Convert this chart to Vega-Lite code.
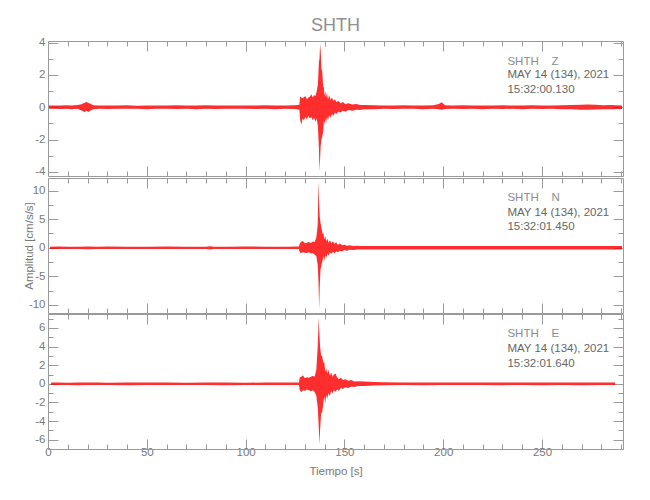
{
  "$schema": "https://vega.github.io/schema/vega-lite/v6.json",
  "padding": {"left": 23, "top": 16, "right": 5, "bottom": 5},
  "spacing": -3,
  "config": {
    "font": "Liberation Sans",
    "view": {"stroke": null},
    "axis": {"domainColor": "#9a9a9a", "tickColor": "#9a9a9a", "labelColor": "#787878", "titleColor": "#787878", "labelFontSize": 11.5, "titleFontSize": 11.5, "titleFontWeight": "normal", "grid": false, "labelFont": "Liberation Sans", "titleFont": "Liberation Sans", "domainWidth": 1, "tickWidth": 1, "labelFlush": false, "labelOverlap": false}
  },
  "datasets": {
    "ann": [
      {"c": "Z", "line": 1, "t": 232.5, "v": 2.81, "label": "SHTH\u00a0\u00a0\u00a0\u00a0Z"},
      {"c": "Z", "line": 2, "t": 232.5, "v": 1.97, "label": "MAY 14 (134), 2021"},
      {"c": "Z", "line": 3, "t": 232.5, "v": 1.06, "label": "15:32:00.130"},
      {"c": "N", "line": 1, "t": 232.5, "v": 8.72, "label": "SHTH\u00a0\u00a0\u00a0\u00a0N"},
      {"c": "N", "line": 2, "t": 232.5, "v": 6.05, "label": "MAY 14 (134), 2021"},
      {"c": "N", "line": 3, "t": 232.5, "v": 3.56, "label": "15:32:01.450"},
      {"c": "E", "line": 1, "t": 232.5, "v": 5.3, "label": "SHTH\u00a0\u00a0\u00a0\u00a0E"},
      {"c": "E", "line": 2, "t": 232.5, "v": 3.76, "label": "MAY 14 (134), 2021"},
      {"c": "E", "line": 3, "t": 232.5, "v": 2.16, "label": "15:32:01.640"}
    ],
    "Z": [
      {"t": 0.5, "lo": -0.1, "hi": 0.1}, {"t": 3, "lo": -0.09, "hi": 0.11}, {"t": 6, "lo": -0.11, "hi": 0.1}, {"t": 9, "lo": -0.1, "hi": 0.12},
      {"t": 12, "lo": -0.12, "hi": 0.1}, {"t": 15, "lo": -0.1, "hi": 0.13}, {"t": 17, "lo": -0.2, "hi": 0.18}, {"t": 18.5, "lo": -0.3, "hi": 0.28},
      {"t": 19.5, "lo": -0.22, "hi": 0.32}, {"t": 20.5, "lo": -0.3, "hi": 0.26}, {"t": 21.5, "lo": -0.2, "hi": 0.22}, {"t": 23, "lo": -0.12, "hi": 0.12},
      {"t": 26, "lo": -0.1, "hi": 0.11}, {"t": 30, "lo": -0.11, "hi": 0.1}, {"t": 35, "lo": -0.09, "hi": 0.1}, {"t": 40, "lo": -0.1, "hi": 0.12},
      {"t": 45, "lo": -0.1, "hi": 0.09}, {"t": 50, "lo": -0.12, "hi": 0.11}, {"t": 55, "lo": -0.09, "hi": 0.1}, {"t": 60, "lo": -0.1, "hi": 0.1},
      {"t": 65, "lo": -0.11, "hi": 0.12}, {"t": 70, "lo": -0.1, "hi": 0.1}, {"t": 75, "lo": -0.12, "hi": 0.11}, {"t": 80, "lo": -0.1, "hi": 0.12},
      {"t": 85, "lo": -0.11, "hi": 0.1}, {"t": 90, "lo": -0.09, "hi": 0.1}, {"t": 95, "lo": -0.1, "hi": 0.11}, {"t": 100, "lo": -0.1, "hi": 0.1},
      {"t": 105, "lo": -0.11, "hi": 0.1}, {"t": 110, "lo": -0.1, "hi": 0.12}, {"t": 115, "lo": -0.12, "hi": 0.11}, {"t": 120, "lo": -0.1, "hi": 0.1},
      {"t": 125, "lo": -0.11, "hi": 0.12}, {"t": 127.2, "lo": -0.15, "hi": 0.15}, {"t": 127.6, "lo": -0.77, "hi": 0.68}, {"t": 128.2, "lo": -1.08, "hi": 0.6},
      {"t": 128.8, "lo": -0.7, "hi": 0.55}, {"t": 129.5, "lo": -0.8, "hi": 0.62}, {"t": 130.3, "lo": -0.6, "hi": 0.7}, {"t": 131, "lo": -0.75, "hi": 0.5},
      {"t": 131.8, "lo": -0.55, "hi": 0.6}, {"t": 132.5, "lo": -0.7, "hi": 0.65}, {"t": 133.3, "lo": -0.6, "hi": 0.8}, {"t": 134, "lo": -0.8, "hi": 0.6},
      {"t": 134.7, "lo": -0.65, "hi": 0.75}, {"t": 135.4, "lo": -0.9, "hi": 0.7}, {"t": 136, "lo": -0.7, "hi": 1.0}, {"t": 136.6, "lo": -1.2, "hi": 1.4},
      {"t": 137.1, "lo": -2.5, "hi": 2.8}, {"t": 137.4, "lo": -3.97, "hi": 3.0}, {"t": 137.7, "lo": -3.2, "hi": 3.9}, {"t": 138.0, "lo": -2.4, "hi": 3.5},
      {"t": 138.4, "lo": -2.0, "hi": 2.4}, {"t": 138.8, "lo": -1.8, "hi": 2.2}, {"t": 139.3, "lo": -1.5, "hi": 1.2}, {"t": 139.6, "lo": -0.8, "hi": 1.3},
      {"t": 139.9, "lo": -1.1, "hi": 0.7}, {"t": 140.3, "lo": -0.7, "hi": 1.0}, {"t": 140.7, "lo": -1.0, "hi": 0.6}, {"t": 141.2, "lo": -0.6, "hi": 0.9},
      {"t": 141.7, "lo": -0.8, "hi": 0.5}, {"t": 142.3, "lo": -0.5, "hi": 0.75}, {"t": 143, "lo": -0.65, "hi": 0.45}, {"t": 143.7, "lo": -0.4, "hi": 0.6},
      {"t": 144.4, "lo": -0.55, "hi": 0.4}, {"t": 145.2, "lo": -0.35, "hi": 0.5}, {"t": 146, "lo": -0.42, "hi": 0.3}, {"t": 147, "lo": -0.28, "hi": 0.4},
      {"t": 148, "lo": -0.33, "hi": 0.25}, {"t": 149.2, "lo": -0.22, "hi": 0.32}, {"t": 150.5, "lo": -0.28, "hi": 0.2}, {"t": 152, "lo": -0.18, "hi": 0.25},
      {"t": 154, "lo": -0.22, "hi": 0.17}, {"t": 156, "lo": -0.15, "hi": 0.2}, {"t": 158, "lo": -0.17, "hi": 0.14}, {"t": 160, "lo": -0.13, "hi": 0.14},
      {"t": 165, "lo": -0.12, "hi": 0.12}, {"t": 170, "lo": -0.1, "hi": 0.11}, {"t": 175, "lo": -0.11, "hi": 0.1},
      {"t": 180, "lo": -0.1, "hi": 0.12}, {"t": 185, "lo": -0.1, "hi": 0.1}, {"t": 190, "lo": -0.12, "hi": 0.11}, {"t": 195, "lo": -0.1, "hi": 0.12},
      {"t": 197.8, "lo": -0.12, "hi": 0.2}, {"t": 199.2, "lo": -0.15, "hi": 0.3}, {"t": 201, "lo": -0.11, "hi": 0.12}, {"t": 205, "lo": -0.1, "hi": 0.1},
      {"t": 210, "lo": -0.11, "hi": 0.12}, {"t": 215, "lo": -0.1, "hi": 0.1}, {"t": 220, "lo": -0.12, "hi": 0.11}, {"t": 225, "lo": -0.1, "hi": 0.1},
      {"t": 230, "lo": -0.11, "hi": 0.12}, {"t": 235, "lo": -0.1, "hi": 0.1}, {"t": 240, "lo": -0.12, "hi": 0.11}, {"t": 245, "lo": -0.1, "hi": 0.12},
      {"t": 250, "lo": -0.11, "hi": 0.1}, {"t": 255, "lo": -0.1, "hi": 0.11}, {"t": 260, "lo": -0.12, "hi": 0.12}, {"t": 265, "lo": -0.13, "hi": 0.14},
      {"t": 270, "lo": -0.15, "hi": 0.15}, {"t": 273, "lo": -0.16, "hi": 0.17}, {"t": 277, "lo": -0.14, "hi": 0.15}, {"t": 281, "lo": -0.13, "hi": 0.12},
      {"t": 285, "lo": -0.12, "hi": 0.13}, {"t": 290.5, "lo": -0.11, "hi": 0.11}
    ],
    "N": [
      {"t": 1, "lo": -0.2, "hi": 0.2}, {"t": 5, "lo": -0.2, "hi": 0.22}, {"t": 10, "lo": -0.22, "hi": 0.2}, {"t": 15, "lo": -0.2, "hi": 0.2},
      {"t": 20, "lo": -0.25, "hi": 0.22}, {"t": 25, "lo": -0.2, "hi": 0.2}, {"t": 30, "lo": -0.2, "hi": 0.22}, {"t": 40, "lo": -0.22, "hi": 0.2},
      {"t": 50, "lo": -0.2, "hi": 0.2}, {"t": 60, "lo": -0.2, "hi": 0.22}, {"t": 70, "lo": -0.22, "hi": 0.2}, {"t": 80, "lo": -0.2, "hi": 0.2},
      {"t": 82, "lo": -0.28, "hi": 0.26}, {"t": 84, "lo": -0.2, "hi": 0.2}, {"t": 90, "lo": -0.2, "hi": 0.2}, {"t": 100, "lo": -0.2, "hi": 0.22},
      {"t": 110, "lo": -0.22, "hi": 0.2}, {"t": 120, "lo": -0.2, "hi": 0.2}, {"t": 127, "lo": -0.22, "hi": 0.22}, {"t": 127.4, "lo": -0.76, "hi": 0.7},
      {"t": 128, "lo": -0.9, "hi": 1.0}, {"t": 129, "lo": -0.8, "hi": 1.17}, {"t": 130, "lo": -0.85, "hi": 0.8}, {"t": 131, "lo": -0.9, "hi": 0.9},
      {"t": 132, "lo": -0.8, "hi": 1.0}, {"t": 133, "lo": -1.0, "hi": 0.85}, {"t": 134, "lo": -0.9, "hi": 1.1}, {"t": 135, "lo": -1.2, "hi": 1.0},
      {"t": 135.8, "lo": -1.5, "hi": 1.8}, {"t": 136.5, "lo": -3.0, "hi": 4.0}, {"t": 136.9, "lo": -6.0, "hi": 11.7}, {"t": 137.2, "lo": -10.7, "hi": 8.0},
      {"t": 137.5, "lo": -7.0, "hi": 5.5}, {"t": 137.9, "lo": -3.8, "hi": 4.4}, {"t": 138.4, "lo": -3.0, "hi": 3.5}, {"t": 139, "lo": -2.2, "hi": 2.4},
      {"t": 139.4, "lo": -1.4, "hi": 2.6}, {"t": 139.8, "lo": -2.3, "hi": 1.5}, {"t": 140.3, "lo": -1.3, "hi": 2.0}, {"t": 140.8, "lo": -1.8, "hi": 1.2},
      {"t": 141.4, "lo": -1.0, "hi": 1.6}, {"t": 142, "lo": -1.4, "hi": 0.9}, {"t": 142.7, "lo": -0.8, "hi": 1.3}, {"t": 143.4, "lo": -1.1, "hi": 0.8},
      {"t": 144.2, "lo": -0.7, "hi": 1.15}, {"t": 145, "lo": -1.0, "hi": 0.7}, {"t": 145.8, "lo": -0.6, "hi": 0.95}, {"t": 146.7, "lo": -0.8, "hi": 0.55},
      {"t": 147.7, "lo": -0.5, "hi": 0.75}, {"t": 148.8, "lo": -0.65, "hi": 0.45}, {"t": 150, "lo": -0.4, "hi": 0.55}, {"t": 151.3, "lo": -0.5, "hi": 0.35},
      {"t": 152.7, "lo": -0.33, "hi": 0.45}, {"t": 154.5, "lo": -0.4, "hi": 0.3}, {"t": 156.5, "lo": -0.28, "hi": 0.35}, {"t": 158, "lo": -0.3, "hi": 0.3},
      {"t": 165, "lo": -0.28, "hi": 0.3},
      {"t": 175, "lo": -0.3, "hi": 0.3}, {"t": 185, "lo": -0.3, "hi": 0.32}, {"t": 195, "lo": -0.32, "hi": 0.3}, {"t": 205, "lo": -0.3, "hi": 0.3},
      {"t": 215, "lo": -0.28, "hi": 0.3}, {"t": 225, "lo": -0.3, "hi": 0.3}, {"t": 235, "lo": -0.3, "hi": 0.32}, {"t": 245, "lo": -0.32, "hi": 0.3},
      {"t": 255, "lo": -0.3, "hi": 0.3}, {"t": 265, "lo": -0.3, "hi": 0.3}, {"t": 275, "lo": -0.28, "hi": 0.3}, {"t": 285, "lo": -0.3, "hi": 0.3},
      {"t": 290.5, "lo": -0.3, "hi": 0.3}
    ],
    "E": [
      {"t": 1.5, "lo": -0.13, "hi": 0.13}, {"t": 5, "lo": -0.12, "hi": 0.14}, {"t": 10, "lo": -0.13, "hi": 0.12}, {"t": 15, "lo": -0.14, "hi": 0.13},
      {"t": 20, "lo": -0.13, "hi": 0.15}, {"t": 25, "lo": -0.12, "hi": 0.13}, {"t": 30, "lo": -0.13, "hi": 0.12}, {"t": 40, "lo": -0.14, "hi": 0.14},
      {"t": 50, "lo": -0.12, "hi": 0.13}, {"t": 60, "lo": -0.13, "hi": 0.14}, {"t": 70, "lo": -0.13, "hi": 0.12}, {"t": 80, "lo": -0.12, "hi": 0.13},
      {"t": 90, "lo": -0.14, "hi": 0.13}, {"t": 100, "lo": -0.13, "hi": 0.12}, {"t": 110, "lo": -0.12, "hi": 0.14}, {"t": 120, "lo": -0.13, "hi": 0.13},
      {"t": 127, "lo": -0.13, "hi": 0.14}, {"t": 127.4, "lo": -0.68, "hi": 0.7}, {"t": 128.2, "lo": -0.9, "hi": 0.75}, {"t": 129, "lo": -0.7, "hi": 0.93},
      {"t": 130, "lo": -0.75, "hi": 0.6}, {"t": 131, "lo": -0.6, "hi": 0.7}, {"t": 132, "lo": -0.7, "hi": 0.65}, {"t": 133, "lo": -0.8, "hi": 0.75},
      {"t": 134, "lo": -0.7, "hi": 0.85}, {"t": 135, "lo": -0.9, "hi": 0.8}, {"t": 135.8, "lo": -1.3, "hi": 1.5}, {"t": 136.5, "lo": -2.5, "hi": 4.0},
      {"t": 137.0, "lo": -4.5, "hi": 7.1}, {"t": 137.3, "lo": -6.5, "hi": 5.5}, {"t": 137.7, "lo": -5.0, "hi": 4.0}, {"t": 138.2, "lo": -3.2, "hi": 3.1},
      {"t": 138.8, "lo": -3.0, "hi": 2.9}, {"t": 139.4, "lo": -2.0, "hi": 2.2}, {"t": 139.8, "lo": -1.3, "hi": 2.4}, {"t": 140.3, "lo": -2.1, "hi": 1.3},
      {"t": 140.8, "lo": -1.2, "hi": 1.7}, {"t": 141.3, "lo": -1.6, "hi": 1.1}, {"t": 141.9, "lo": -1.0, "hi": 1.5}, {"t": 142.6, "lo": -1.3, "hi": 0.9},
      {"t": 143.3, "lo": -0.8, "hi": 1.2}, {"t": 144, "lo": -1.0, "hi": 0.75}, {"t": 144.7, "lo": -0.7, "hi": 1.0}, {"t": 145.5, "lo": -0.85, "hi": 1.1},
      {"t": 146.3, "lo": -0.6, "hi": 0.7}, {"t": 147.2, "lo": -0.75, "hi": 0.5}, {"t": 148.2, "lo": -0.45, "hi": 0.65}, {"t": 149.3, "lo": -0.55, "hi": 0.4},
      {"t": 150.5, "lo": -0.38, "hi": 0.5}, {"t": 152, "lo": -0.45, "hi": 0.32}, {"t": 153.5, "lo": -0.3, "hi": 0.4}, {"t": 155, "lo": -0.35, "hi": 0.25},
      {"t": 157, "lo": -0.22, "hi": 0.28}, {"t": 160, "lo": -0.22, "hi": 0.24}, {"t": 165, "lo": -0.18, "hi": 0.2}, {"t": 170, "lo": -0.15, "hi": 0.16},
      {"t": 180, "lo": -0.13, "hi": 0.14},
      {"t": 190, "lo": -0.14, "hi": 0.13}, {"t": 200, "lo": -0.13, "hi": 0.13}, {"t": 210, "lo": -0.12, "hi": 0.14}, {"t": 220, "lo": -0.13, "hi": 0.13},
      {"t": 230, "lo": -0.14, "hi": 0.15}, {"t": 240, "lo": -0.13, "hi": 0.14}, {"t": 250, "lo": -0.14, "hi": 0.13}, {"t": 260, "lo": -0.13, "hi": 0.14},
      {"t": 270, "lo": -0.14, "hi": 0.13}, {"t": 280, "lo": -0.13, "hi": 0.14}, {"t": 287, "lo": -0.13, "hi": 0.13}
    ]
  },
  "vconcat": [
    {
      "width": 575, "height": 135,
      "title": {"text": "SHTH", "fontSize": 18, "color": "#8f8f8f", "fontWeight": "normal", "font": "Liberation Sans", "frame": "group", "anchor": "middle", "offset": 2},
      "resolve": {"axis": {"x": "independent", "y": "independent"}},
      "layer": [
        {
          "data": {"name": "Z"},
          "mark": {"type": "area", "color": "#ff0000", "opacity": 0.82},
          "encoding": {
            "x": {"field": "t", "type": "quantitative", "scale": {"domain": [0, 291], "nice": false, "zero": false},
              "axis": {"orient": "bottom", "values": [0,10,20,30,40,50,60,70,80,90,100,110,120,130,140,150,160,170,180,190,200,210,220,230,240,250,260,270,280,290], "labels": false, "title": null, "tickSize": {"condition": {"test": "datum.value % 50 === 0", "value": -10}, "value": -5}}},
            "y": {"field": "lo", "type": "quantitative", "scale": {"domain": [-4.26, 4.1], "nice": false, "zero": false},
              "axis": {"orient": "left", "values": [-4,-3,-2,-1,0,1,2,3,4], "labelExpr": "datum.value % 2 === 0 ? '' + datum.value : ''", "tickSize": {"condition": {"test": "datum.value % 2 === 0", "value": -10}, "value": -5}, "labelPadding": 13, "minExtent": 12, "maxExtent": 12, "title": "Amplitud [cm/s/s]", "titleOpacity": 0, "titlePadding": 2}},
            "y2": {"field": "hi"}
          }
        },
        {
          "data": {"name": "ann"},
          "transform": [{"filter": "datum.c === 'Z'"}],
          "mark": {"type": "text", "align": "left", "baseline": "middle", "fontSize": 11.5},
          "encoding": {
            "x": {"field": "t", "type": "quantitative", "scale": {"domain": [0, 291], "nice": false, "zero": false},
              "axis": {"orient": "top", "values": [0,10,20,30,40,50,60,70,80,90,100,110,120,130,140,150,160,170,180,190,200,210,220,230,240,250,260,270,280,290], "labels": false, "title": null, "tickSize": {"condition": {"test": "datum.value % 50 === 0", "value": -10}, "value": -5}}},
            "y": {"field": "v", "type": "quantitative", "scale": {"domain": [-4.26, 4.1], "nice": false, "zero": false},
              "axis": {"orient": "right", "values": [-4,-3,-2,-1,0,1,2,3,4], "labels": false, "title": null, "tickSize": {"condition": {"test": "datum.value % 2 === 0", "value": -10}, "value": -5}}},
            "text": {"field": "label"},
            "color": {"condition": {"test": "datum.line === 1", "value": "#8c8c8c"}, "value": "#666666"}
          }
        }
      ]
    },
    {
      "width": 575, "height": 135,
      "resolve": {"axis": {"x": "independent", "y": "independent"}},
      "layer": [
        {
          "data": {"name": "N"},
          "mark": {"type": "area", "color": "#ff0000", "opacity": 0.82},
          "encoding": {
            "x": {"field": "t", "type": "quantitative", "scale": {"domain": [0, 291], "nice": false, "zero": false},
              "axis": {"orient": "bottom", "values": [0,10,20,30,40,50,60,70,80,90,100,110,120,130,140,150,160,170,180,190,200,210,220,230,240,250,260,270,280,290], "labels": false, "title": null, "tickSize": {"condition": {"test": "datum.value % 50 === 0", "value": -10}, "value": -5}}},
            "y": {"field": "lo", "type": "quantitative", "scale": {"domain": [-11.4, 12.2], "nice": false, "zero": false},
              "axis": {"orient": "left", "values": [-10,-7.5,-5,-2.5,0,2.5,5,7.5,10], "labelExpr": "datum.value % 5 === 0 ? '' + datum.value : ''", "tickSize": {"condition": {"test": "datum.value % 5 === 0", "value": -10}, "value": -5}, "labelPadding": 13, "minExtent": 12, "maxExtent": 12, "title": "Amplitud [cm/s/s]", "titlePadding": 2}},
            "y2": {"field": "hi"}
          }
        },
        {
          "data": {"name": "ann"},
          "transform": [{"filter": "datum.c === 'N'"}],
          "mark": {"type": "text", "align": "left", "baseline": "middle", "fontSize": 11.5},
          "encoding": {
            "x": {"field": "t", "type": "quantitative", "scale": {"domain": [0, 291], "nice": false, "zero": false},
              "axis": {"orient": "top", "values": [0,10,20,30,40,50,60,70,80,90,100,110,120,130,140,150,160,170,180,190,200,210,220,230,240,250,260,270,280,290], "labels": false, "title": null, "tickSize": {"condition": {"test": "datum.value % 50 === 0", "value": -10}, "value": -5}}},
            "y": {"field": "v", "type": "quantitative", "scale": {"domain": [-11.4, 12.2], "nice": false, "zero": false},
              "axis": {"orient": "right", "values": [-10,-7.5,-5,-2.5,0,2.5,5,7.5,10], "labels": false, "title": null, "tickSize": {"condition": {"test": "datum.value % 5 === 0", "value": -10}, "value": -5}}},
            "text": {"field": "label"},
            "color": {"condition": {"test": "datum.line === 1", "value": "#8c8c8c"}, "value": "#666666"}
          }
        }
      ]
    },
    {
      "width": 575, "height": 135,
      "resolve": {"axis": {"x": "independent", "y": "independent"}},
      "layer": [
        {
          "data": {"name": "E"},
          "mark": {"type": "area", "color": "#ff0000", "opacity": 0.82},
          "encoding": {
            "x": {"field": "t", "type": "quantitative", "scale": {"domain": [0, 291], "nice": false, "zero": false},
              "axis": {"orient": "bottom", "values": [0,10,20,30,40,50,60,70,80,90,100,110,120,130,140,150,160,170,180,190,200,210,220,230,240,250,260,270,280,290], "labelExpr": "datum.value % 50 === 0 ? '' + datum.value : ''", "labelPadding": 7, "title": "Tiempo [s]", "titlePadding": 3, "tickSize": {"condition": {"test": "datum.value % 50 === 0", "value": -10}, "value": -5}}},
            "y": {"field": "lo", "type": "quantitative", "scale": {"domain": [-7.0, 7.5], "nice": false, "zero": false},
              "axis": {"orient": "left", "values": [-7,-6,-5,-4,-3,-2,-1,0,1,2,3,4,5,6,7], "labelExpr": "datum.value % 2 === 0 ? '' + datum.value : ''", "tickSize": {"condition": {"test": "datum.value % 2 === 0", "value": -10}, "value": -5}, "labelPadding": 13, "minExtent": 12, "maxExtent": 12, "title": "Amplitud [cm/s/s]", "titleOpacity": 0, "titlePadding": 2}},
            "y2": {"field": "hi"}
          }
        },
        {
          "data": {"name": "ann"},
          "transform": [{"filter": "datum.c === 'E'"}],
          "mark": {"type": "text", "align": "left", "baseline": "middle", "fontSize": 11.5},
          "encoding": {
            "x": {"field": "t", "type": "quantitative", "scale": {"domain": [0, 291], "nice": false, "zero": false},
              "axis": {"orient": "top", "values": [0,10,20,30,40,50,60,70,80,90,100,110,120,130,140,150,160,170,180,190,200,210,220,230,240,250,260,270,280,290], "labels": false, "title": null, "tickSize": {"condition": {"test": "datum.value % 50 === 0", "value": -10}, "value": -5}}},
            "y": {"field": "v", "type": "quantitative", "scale": {"domain": [-7.0, 7.5], "nice": false, "zero": false},
              "axis": {"orient": "right", "values": [-7,-6,-5,-4,-3,-2,-1,0,1,2,3,4,5,6,7], "labels": false, "title": null, "tickSize": {"condition": {"test": "datum.value % 2 === 0", "value": -10}, "value": -5}}},
            "text": {"field": "label"},
            "color": {"condition": {"test": "datum.line === 1", "value": "#8c8c8c"}, "value": "#666666"}
          }
        }
      ]
    }
  ]
}
